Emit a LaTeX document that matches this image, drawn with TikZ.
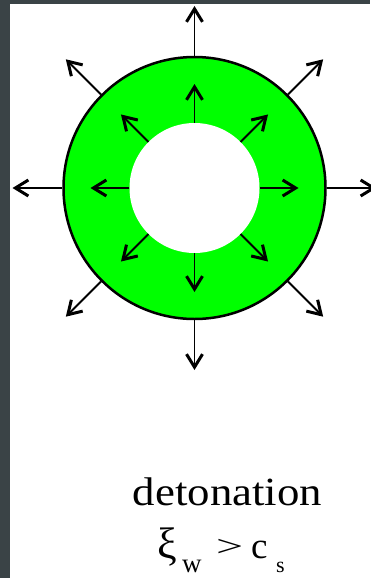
\documentclass[tikz,border=0pt]{standalone}
\usepackage{fontspec}
\setmainfont{Liberation Serif}
\usetikzlibrary{arrows.meta,calc}
\definecolor{frameclr}{HTML}{3A4346}
\definecolor{ringclr}{HTML}{00FF00}
\begin{document}
\begin{tikzpicture}[x=1pt,y=-1pt,
  arr/.style={line width=1.8pt,-{Straight Barb[length=13pt,width=16pt,line width=3pt]}},
  txt/.style={inner sep=0pt,anchor=base west}]
\useasboundingbox (0,0) rectangle (370,578);
\fill[white] (0,0) rectangle (370,578);
\fill[frameclr] (0,0) rectangle (370,4);
\fill[frameclr] (0,0) rectangle (10,578);
\coordinate (c) at (194.5,188);
\node[circle, draw, line width=2.5pt, fill=ringclr, minimum size=262pt, inner sep=0pt] (ring) at (c) {};
\node[circle, fill=white, minimum size=130pt, inner sep=0pt] (core) at (c) {};
\foreach \a in {0,45,...,315} {
  \coordinate (o\a) at ($(c)+(\a:182pt)$);
  \coordinate (i\a) at ($(c)+(\a:104pt)$);
  \draw[arr] (ring.\a) -- (o\a);
  \draw[arr] (core.\a) -- (i\a);
}
\node[anchor=base, inner sep=0pt] (t1) at (227.5,505) {\fontsize{40}{48}\selectfont\scalebox{1.12}[1]{detonation}};
\node[txt] (xi) at (157,558) {\fontsize{44}{50}\selectfont ξ};
\node[txt] (w) at (182,572) {\fontsize{27}{32}\selectfont w};
\node[txt] (gt) at (216,556) {\scalebox{1.6}[1]{\fontsize{30}{36}\selectfont >}};
\node[txt] (cc) at (251,558) {\fontsize{37}{44}\selectfont c};
\node[txt] (s) at (276,572) {\fontsize{22}{26}\selectfont s};
\end{tikzpicture}
\end{document}
